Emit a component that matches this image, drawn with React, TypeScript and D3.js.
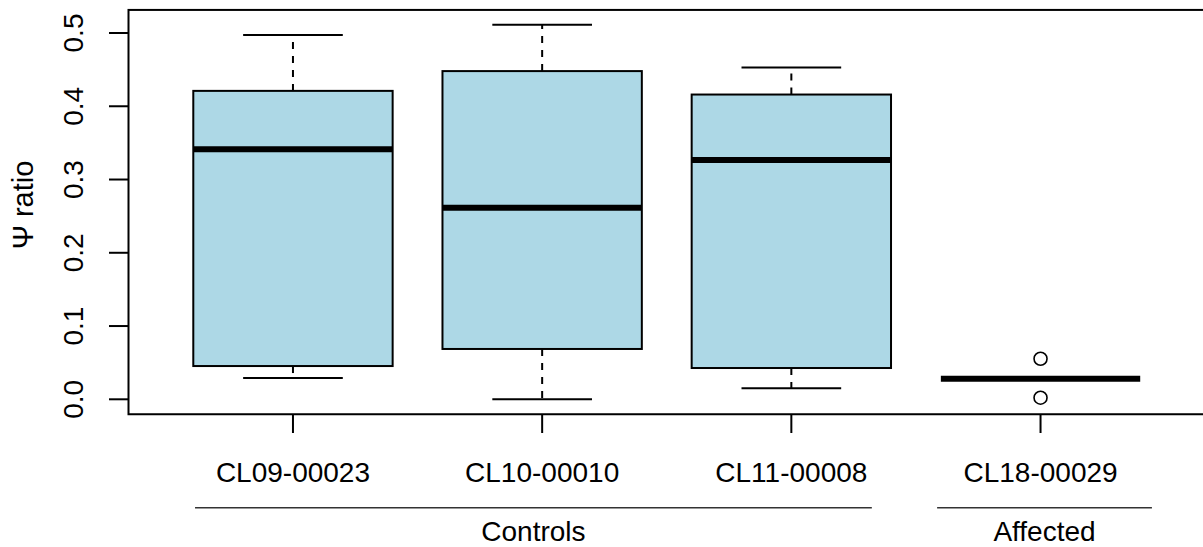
import * as d3 from 'd3'

const categories = ['CL09-00023', 'CL10-00010', 'CL11-00008', 'CL18-00029']
const lowWhisker = [0.029, 0.0, 0.015, 0.028]
const q1 = [0.0454, 0.0687, 0.0427, 0.028]
const median = [0.3413, 0.2615, 0.3267, 0.028]
const q3 = [0.421, 0.448, 0.416, 0.028]
const highWhisker = [0.4973, 0.5113, 0.453, 0.028]
const outliers: number[][] = [[], [], [], [0.0554, 0.0022]]
const yTicks = [0, 0.1, 0.2, 0.3, 0.4, 0.5]
const groupNames = ['Controls', 'Affected']
const groupStart = [0.607, 3.585]
const groupEnd = [3.323, 4.447]

const width = 1203
const height = 547
const font = '"Liberation Sans", Arial, sans-serif'

export default function App() {
  const x = d3.scaleLinear([0.34, 4.66], [128.5, 1205])
  const y = d3.scaleLinear([0, 0.5], [399.3, 33])
  const [yLo, yHi] = [-0.0204, 0.5315]
  // R boxplot: box width 0.8, staple half of that
  const boxW = x(1.4) - x(0.6)
  const capW = boxW / 2

  return (
    <div style={{ position: 'absolute', left: 0, top: 0 }}>
      <svg width={width} height={height} viewBox={`0 0 ${width} ${height}`} style={{ display: 'block', background: '#fff' }}>
        {/* frame */}
        <rect x={x(0.34)} y={y(yHi)} width={x(4.66) - x(0.34)} height={y(yLo) - y(yHi)} fill="none" stroke="#000" strokeWidth={2} />

        {/* y axis */}
        <g>
          {yTicks.map((t) => (
            <g key={t}>
              <line x1={109} x2={x(0.34)} y1={y(t)} y2={y(t)} stroke="#000" strokeWidth={2} />
              <text
                transform={`translate(83,${y(t)}) rotate(-90)`}
                textAnchor="middle"
                fontFamily={font}
                fontSize={28}
              >
                {t.toFixed(1)}
              </text>
            </g>
          ))}
          <text transform={`translate(33,205) rotate(-90)`} textAnchor="middle" fontFamily={font} fontSize={29}>
            Ψ ratio
          </text>
        </g>

        {/* boxes */}
        {categories.map((c, i) => {
          const cx = x(i + 1)
          return (
            <g key={c}>
              <line x1={cx} x2={cx} y1={y(q3[i])} y2={y(highWhisker[i])} stroke="#000" strokeWidth={2} strokeDasharray="7,7" />
              <line x1={cx} x2={cx} y1={y(q1[i])} y2={y(lowWhisker[i])} stroke="#000" strokeWidth={2} strokeDasharray="7,7" />
              <line x1={cx - capW / 2} x2={cx + capW / 2} y1={y(highWhisker[i])} y2={y(highWhisker[i])} stroke="#000" strokeWidth={2} />
              <line x1={cx - capW / 2} x2={cx + capW / 2} y1={y(lowWhisker[i])} y2={y(lowWhisker[i])} stroke="#000" strokeWidth={2} />
              <rect
                x={cx - boxW / 2}
                y={y(q3[i])}
                width={boxW}
                height={y(q1[i]) - y(q3[i])}
                fill="#ADD8E6"
                stroke="#000"
                strokeWidth={2}
              />
              <line x1={cx - boxW / 2} x2={cx + boxW / 2} y1={y(median[i])} y2={y(median[i])} stroke="#000" strokeWidth={6} />
              {outliers[i].map((o, j) => (
                <circle key={j} cx={cx} cy={y(o)} r={6.5} fill="none" stroke="#000" strokeWidth={1.6} />
              ))}
              <line x1={cx} x2={cx} y1={y(yLo)} y2={433} stroke="#000" strokeWidth={2} />
              <text x={cx} y={481.5} textAnchor="middle" fontFamily={font} fontSize={28}>
                {c}
              </text>
            </g>
          )
        })}

        {/* group annotations */}
        {groupNames.map((g, i) => (
          <g key={g}>
            <line x1={x(groupStart[i])} x2={x(groupEnd[i])} y1={507.7} y2={507.7} stroke="#333" strokeWidth={1.5} />
            <text x={(x(groupStart[i]) + x(groupEnd[i])) / 2} y={541} textAnchor="middle" fontFamily={font} fontSize={28}>
              {g}
            </text>
          </g>
        ))}
      </svg>
    </div>
  )
}
